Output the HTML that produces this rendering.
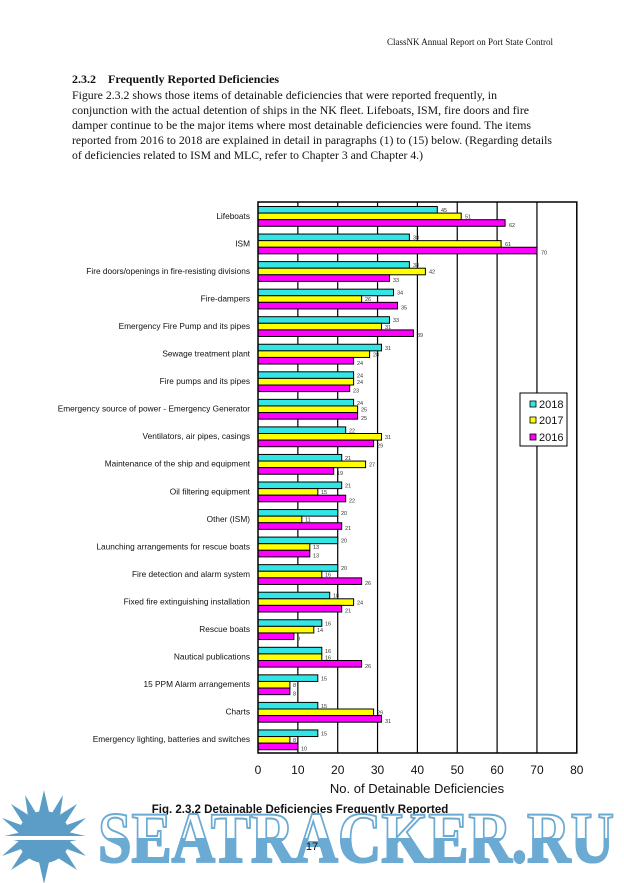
<!DOCTYPE html>
<html><head><meta charset="utf-8"><style>
html,body{margin:0;padding:0;background:#fff;}
svg{display:block;}
.c{fill:#33e6e6;stroke:#000;stroke-width:1}
.y{fill:#ffff00;stroke:#000;stroke-width:1}
.m{fill:#ff00ff;stroke:#000;stroke-width:1}
.v{font-family:"Liberation Sans",sans-serif;font-size:5.5px;fill:#333}
.l{font-family:"Liberation Sans",sans-serif;font-size:8.3px;fill:#111;text-anchor:end}
</style></head><body>
<svg width="624" height="883" xmlns="http://www.w3.org/2000/svg">
<defs><clipPath id="lower"><rect x="0" y="838" width="624" height="60"/></clipPath></defs>
<rect width="624" height="883" fill="#fff"/>
<text x="553" y="45" font-family="Liberation Serif, serif" font-size="9" text-anchor="end" fill="#111">ClassNK Annual Report on Port State Control</text>
<g font-family="Liberation Serif, serif" fill="#111">
<text x="72" y="83" font-size="12" font-weight="bold">2.3.2&#160;&#160;&#160;&#160;Frequently Reported Deficiencies</text>
<g font-size="12">
<text x="72" y="99" textLength="425" lengthAdjust="spacingAndGlyphs">Figure 2.3.2 shows those items of detainable deficiencies that were reported frequently, in</text>
<text x="72" y="114" textLength="457" lengthAdjust="spacingAndGlyphs">conjunction with the actual detention of ships in the NK fleet. Lifeboats, ISM, fire doors and fire</text>
<text x="72" y="129" textLength="459" lengthAdjust="spacingAndGlyphs">damper continue to be the major items where most detainable deficiencies were found. The items</text>
<text x="72" y="144" textLength="480" lengthAdjust="spacingAndGlyphs">reported from 2016 to 2018 are explained in detail in paragraphs (1) to (15) below. (Regarding details</text>
<text x="72" y="159" textLength="351" lengthAdjust="spacingAndGlyphs">of deficiencies related to ISM and MLC, refer to Chapter 3 and Chapter 4.)</text>
</g></g>

<g stroke="#000" stroke-width="1.2">
<line x1="297.85" y1="202" x2="297.85" y2="753"/><line x1="337.7" y1="202" x2="337.7" y2="753"/>
<line x1="377.55" y1="202" x2="377.55" y2="753"/><line x1="417.4" y1="202" x2="417.4" y2="753"/>
<line x1="457.25" y1="202" x2="457.25" y2="753"/><line x1="497.1" y1="202" x2="497.1" y2="753"/>
<line x1="536.95" y1="202" x2="536.95" y2="753"/>
</g>

<g transform="translate(0,202)"><text class="l" x="250" y="16.8">Lifeboats</text><g transform="translate(258,0)"><rect class="c" y="4.5" width="179.3" height="6.6"/><rect class="y" y="11.1" width="203.2" height="6.6"/><rect class="m" y="17.7" width="247.1" height="6.6"/><text class="v" x="183" y="10">45</text><text class="v" x="207" y="16.6">51</text><text class="v" x="251" y="25">62</text></g></g>
<g transform="translate(0,229.55)"><text class="l" x="250" y="16.8">ISM</text><g transform="translate(258,0)"><rect class="c" y="4.5" width="151.4" height="6.6"/><rect class="y" y="11.1" width="243.1" height="6.6"/><rect class="m" y="17.7" width="279" height="6.6"/><text class="v" x="155" y="10">38</text><text class="v" x="247" y="16.6">61</text><text class="v" x="283" y="25">70</text></g></g>
<g transform="translate(0,257.1)"><text class="l" x="250" y="16.8">Fire doors/openings in fire-resisting divisions</text><g transform="translate(258,0)"><rect class="c" y="4.5" width="151.4" height="6.6"/><rect class="y" y="11.1" width="167.4" height="6.6"/><rect class="m" y="17.7" width="131.5" height="6.6"/><text class="v" x="155" y="10">38</text><text class="v" x="171" y="16.6">42</text><text class="v" x="135" y="25">33</text></g></g>
<g transform="translate(0,284.65)"><text class="l" x="250" y="16.8">Fire-dampers</text><g transform="translate(258,0)"><rect class="c" y="4.5" width="135.5" height="6.6"/><rect class="y" y="11.1" width="103.6" height="6.6"/><rect class="m" y="17.7" width="139.5" height="6.6"/><text class="v" x="139" y="10">34</text><text class="v" x="107" y="16.6">26</text><text class="v" x="143" y="25">35</text></g></g>
<g transform="translate(0,312.2)"><text class="l" x="250" y="16.8">Emergency Fire Pump and its pipes</text><g transform="translate(258,0)"><rect class="c" y="4.5" width="131.5" height="6.6"/><rect class="y" y="11.1" width="123.5" height="6.6"/><rect class="m" y="17.7" width="155.4" height="6.6"/><text class="v" x="135" y="10">33</text><text class="v" x="127" y="16.6">31</text><text class="v" x="159" y="25">39</text></g></g>
<g transform="translate(0,339.75)"><text class="l" x="250" y="16.8">Sewage treatment plant</text><g transform="translate(258,0)"><rect class="c" y="4.5" width="123.5" height="6.6"/><rect class="y" y="11.1" width="111.6" height="6.6"/><rect class="m" y="17.7" width="95.6" height="6.6"/><text class="v" x="127" y="10">31</text><text class="v" x="115" y="16.6">28</text><text class="v" x="99" y="25">24</text></g></g>
<g transform="translate(0,367.3)"><text class="l" x="250" y="16.8">Fire pumps and its pipes</text><g transform="translate(258,0)"><rect class="c" y="4.5" width="95.6" height="6.6"/><rect class="y" y="11.1" width="95.6" height="6.6"/><rect class="m" y="17.7" width="91.7" height="6.6"/><text class="v" x="99" y="10">24</text><text class="v" x="99" y="16.6">24</text><text class="v" x="95" y="25">23</text></g></g>
<g transform="translate(0,394.85)"><text class="l" x="250" y="16.8">Emergency source of power - Emergency Generator</text><g transform="translate(258,0)"><rect class="c" y="4.5" width="95.6" height="6.6"/><rect class="y" y="11.1" width="99.6" height="6.6"/><rect class="m" y="17.7" width="99.6" height="6.6"/><text class="v" x="99" y="10">24</text><text class="v" x="103" y="16.6">25</text><text class="v" x="103" y="25">25</text></g></g>
<g transform="translate(0,422.4)"><text class="l" x="250" y="16.8">Ventilators, air pipes, casings</text><g transform="translate(258,0)"><rect class="c" y="4.5" width="87.7" height="6.6"/><rect class="y" y="11.1" width="123.5" height="6.6"/><rect class="m" y="17.7" width="115.6" height="6.6"/><text class="v" x="91" y="10">22</text><text class="v" x="127" y="16.6">31</text><text class="v" x="119" y="25">29</text></g></g>
<g transform="translate(0,449.95)"><text class="l" x="250" y="16.8">Maintenance of the ship and equipment</text><g transform="translate(258,0)"><rect class="c" y="4.5" width="83.7" height="6.6"/><rect class="y" y="11.1" width="107.6" height="6.6"/><rect class="m" y="17.7" width="75.7" height="6.6"/><text class="v" x="87" y="10">21</text><text class="v" x="111" y="16.6">27</text><text class="v" x="79" y="25">19</text></g></g>
<g transform="translate(0,477.5)"><text class="l" x="250" y="16.8">Oil filtering equipment</text><g transform="translate(258,0)"><rect class="c" y="4.5" width="83.7" height="6.6"/><rect class="y" y="11.1" width="59.8" height="6.6"/><rect class="m" y="17.7" width="87.7" height="6.6"/><text class="v" x="87" y="10">21</text><text class="v" x="63" y="16.6">15</text><text class="v" x="91" y="25">22</text></g></g>
<g transform="translate(0,505.05)"><text class="l" x="250" y="16.8">Other (ISM)</text><g transform="translate(258,0)"><rect class="c" y="4.5" width="79.7" height="6.6"/><rect class="y" y="11.1" width="43.8" height="6.6"/><rect class="m" y="17.7" width="83.7" height="6.6"/><text class="v" x="83" y="10">20</text><text class="v" x="47" y="16.6">11</text><text class="v" x="87" y="25">21</text></g></g>
<g transform="translate(0,532.6)"><text class="l" x="250" y="16.8">Launching arrangements for rescue boats</text><g transform="translate(258,0)"><rect class="c" y="4.5" width="79.7" height="6.6"/><rect class="y" y="11.1" width="51.8" height="6.6"/><rect class="m" y="17.7" width="51.8" height="6.6"/><text class="v" x="83" y="10">20</text><text class="v" x="55" y="16.6">13</text><text class="v" x="55" y="25">13</text></g></g>
<g transform="translate(0,560.15)"><text class="l" x="250" y="16.8">Fire detection and alarm system</text><g transform="translate(258,0)"><rect class="c" y="4.5" width="79.7" height="6.6"/><rect class="y" y="11.1" width="63.8" height="6.6"/><rect class="m" y="17.7" width="103.6" height="6.6"/><text class="v" x="83" y="10">20</text><text class="v" x="67" y="16.6">16</text><text class="v" x="107" y="25">26</text></g></g>
<g transform="translate(0,587.7)"><text class="l" x="250" y="16.8">Fixed fire extinguishing installation</text><g transform="translate(258,0)"><rect class="c" y="4.5" width="71.7" height="6.6"/><rect class="y" y="11.1" width="95.6" height="6.6"/><rect class="m" y="17.7" width="83.7" height="6.6"/><text class="v" x="75" y="10">18</text><text class="v" x="99" y="16.6">24</text><text class="v" x="87" y="25">21</text></g></g>
<g transform="translate(0,615.25)"><text class="l" x="250" y="16.8">Rescue boats</text><g transform="translate(258,0)"><rect class="c" y="4.5" width="63.8" height="6.6"/><rect class="y" y="11.1" width="55.8" height="6.6"/><rect class="m" y="17.7" width="35.9" height="6.6"/><text class="v" x="67" y="10">16</text><text class="v" x="59" y="16.6">14</text><text class="v" x="39" y="25">9</text></g></g>
<g transform="translate(0,642.8)"><text class="l" x="250" y="16.8">Nautical publications</text><g transform="translate(258,0)"><rect class="c" y="4.5" width="63.8" height="6.6"/><rect class="y" y="11.1" width="63.8" height="6.6"/><rect class="m" y="17.7" width="103.6" height="6.6"/><text class="v" x="67" y="10">16</text><text class="v" x="67" y="16.6">16</text><text class="v" x="107" y="25">26</text></g></g>
<g transform="translate(0,670.35)"><text class="l" x="250" y="16.8">15 PPM Alarm arrangements</text><g transform="translate(258,0)"><rect class="c" y="4.5" width="59.8" height="6.6"/><rect class="y" y="11.1" width="31.9" height="6.6"/><rect class="m" y="17.7" width="31.9" height="6.6"/><text class="v" x="63" y="10">15</text><text class="v" x="35" y="16.6">8</text><text class="v" x="35" y="25">8</text></g></g>
<g transform="translate(0,697.9)"><text class="l" x="250" y="16.8">Charts</text><g transform="translate(258,0)"><rect class="c" y="4.5" width="59.8" height="6.6"/><rect class="y" y="11.1" width="115.6" height="6.6"/><rect class="m" y="17.7" width="123.5" height="6.6"/><text class="v" x="63" y="10">15</text><text class="v" x="119" y="16.6">29</text><text class="v" x="127" y="25">31</text></g></g>
<g transform="translate(0,725.45)"><text class="l" x="250" y="16.8">Emergency lighting, batteries and switches</text><g transform="translate(258,0)"><rect class="c" y="4.5" width="59.8" height="6.6"/><rect class="y" y="11.1" width="31.9" height="6.6"/><rect class="m" y="17.7" width="39.9" height="6.6"/><text class="v" x="63" y="10">15</text><text class="v" x="35" y="16.6">8</text><text class="v" x="43" y="25">10</text></g></g>

<rect x="258" y="202" width="318.8" height="551" fill="none" stroke="#000" stroke-width="1.5"/>

<g font-family="Liberation Sans, sans-serif" font-size="12" fill="#111" text-anchor="middle">
<text x="258" y="774">0</text><text x="297.85" y="774">10</text><text x="337.7" y="774">20</text><text x="377.55" y="774">30</text><text x="417.4" y="774">40</text><text x="457.25" y="774">50</text><text x="497.1" y="774">60</text><text x="536.95" y="774">70</text><text x="576.8" y="774">80</text>
<text x="417" y="793" font-size="13">No. of Detainable Deficiencies</text>
</g>

<rect x="520" y="393" width="47" height="53" fill="#fff" stroke="#000"/>
<g font-family="Liberation Sans, sans-serif" font-size="11" fill="#111">
<rect x="530" y="401" width="6" height="6" fill="#33e6e6" stroke="#000" stroke-width="0.8"/><text x="539" y="408">2018</text>
<rect x="530" y="417" width="6" height="6" fill="#ffff00" stroke="#000" stroke-width="0.8"/><text x="539" y="424">2017</text>
<rect x="530" y="434" width="6" height="6" fill="#ff00ff" stroke="#000" stroke-width="0.8"/><text x="539" y="441">2016</text>
</g>

<text x="300" y="813" font-family="Liberation Sans, sans-serif" font-size="11.5" font-weight="bold" text-anchor="middle" fill="#111">Fig. 2.3.2 Detainable Deficiencies Frequently Reported</text>

<g fill="#5b9dc7">
<circle cx="44" cy="837" r="26"/>
<polygon points="44,790 49,812 39,812"/><polygon points="44,884 49,862 39,862"/>
<polygon points="0,837 22,832 22,842"/><polygon points="90,837 68,832 68,842"/>
<polygon points="11,804 30,816 23,823"/><polygon points="77,804 58,816 65,823"/>
<polygon points="11,870 30,858 23,851"/><polygon points="77,870 58,858 65,851"/>
<polygon points="25,795 36,813 28,816"/><polygon points="63,795 52,813 60,816"/>
<polygon points="2,818 24,826 20,834"/><polygon points="86,818 64,826 68,834"/>
<polygon points="2,856 24,848 20,840"/><polygon points="86,856 64,848 68,840"/>
<rect x="0" y="836" width="90" height="4" fill="#fff"/>
<text x="98" y="862" font-family="Liberation Serif, serif" font-size="72" font-weight="bold" textLength="516" lengthAdjust="spacingAndGlyphs" fill="#fff" stroke="#6aaad3" stroke-width="2">SEATRACKER.RU</text>
<text x="98" y="862" clip-path="url(#lower)" font-family="Liberation Serif, serif" font-size="72" font-weight="bold" textLength="516" lengthAdjust="spacingAndGlyphs" fill="#6aaad3" stroke="#6aaad3" stroke-width="2">SEATRACKER.RU</text>
</g>
<text x="312" y="850" font-family="Liberation Sans, sans-serif" font-size="11" text-anchor="middle" fill="#111">17</text>
</svg>
</body></html>
